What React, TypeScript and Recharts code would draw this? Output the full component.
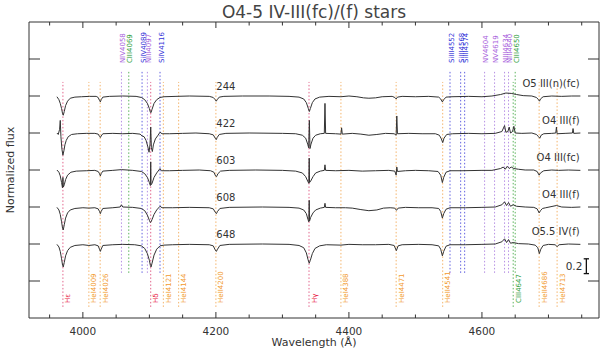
import React from "react";
import { LineChart, Line, XAxis, YAxis, ReferenceLine, ReferenceDot } from "recharts";

// wavelength axis (Angstrom) and flux axis
const X_DOMAIN = [3919, 4776];
const X_TICKS = [3950, 4000, 4050, 4100, 4150, 4200, 4250, 4300, 4350, 4400, 4450, 4500, 4550, 4600, 4650, 4700, 4750];
const Y_TICKS = [0.5, 1, 1.5, 2, 2.5, 3, 3.5];

const STAR_IDS = ["244", "422", "603", "608", "648"];
const STAR_TYPES = ["O5 III(n)(fc)", "O4 III(f)", "O4 III(fc)", "O4 III(f)", "O5.5 IV(f)"];
const STAR_OFFSETS = [2, 1.5, 1, 0.5, 0];

// normalized flux, [wavelength, flux]
const FLUX_244 = [
  [3961, 0.99], [3964, 0.95], [3966, 0.9], [3968, 0.83], [3969.5, 0.76], [3970.5, 0.74], [3972, 0.79], [3974, 0.87],
  [3977, 0.93], [3981, 0.97], [3988, 0.985], [3998, 0.99], [4010, 0.995], [4020, 0.995], [4023, 0.98], [4025, 0.94],
  [4026.3, 0.92], [4027.5, 0.95], [4030, 0.985], [4040, 0.995], [4060, 1.0], [4080, 0.995], [4088, 0.98], [4093, 0.95],
  [4097, 0.9], [4100, 0.83], [4101.5, 0.78], [4102.5, 0.775], [4104, 0.82], [4107, 0.9], [4111, 0.95], [4116, 0.98],
  [4122, 0.99], [4140, 0.995], [4160, 1.0], [4190, 0.995], [4196, 0.98], [4199, 0.95], [4200.5, 0.93], [4202, 0.95],
  [4205, 0.985], [4212, 0.995], [4240, 1.0], [4280, 1.0], [4310, 0.995], [4325, 0.985], [4332, 0.96], [4336, 0.91],
  [4339, 0.83], [4340.5, 0.79], [4342, 0.83], [4345, 0.91], [4349, 0.96], [4356, 0.985], [4370, 0.995], [4388, 0.99],
  [4400, 1.0], [4412, 0.99], [4422, 0.975], [4430, 0.97], [4440, 0.975], [4450, 0.99], [4465, 0.995], [4469, 0.98],
  [4471, 0.96], [4473, 0.985], [4480, 0.995], [4500, 0.99], [4520, 0.995], [4535, 0.985], [4538, 0.96], [4540.5, 0.92],
  [4542.5, 0.95], [4546, 0.985], [4555, 0.99], [4580, 0.995], [4600, 0.99], [4615, 1.0], [4628, 1.02], [4636, 1.04],
  [4644, 1.035], [4652, 1.02], [4662, 1.005], [4675, 1.0], [4682, 0.98], [4685, 0.95], [4686.5, 0.93], [4688, 0.96],
  [4692, 0.99], [4705, 1.0], [4720, 0.995], [4735, 1.0], [4748, 1.0],
];

const FLUX_422 = [
  [3961, 1.0], [3963, 0.98], [3965, 1.05], [3966, 1.17], [3967, 0.95], [3968.5, 0.78], [3970, 0.7], [3971.5, 0.76],
  [3973, 0.84], [3975, 0.9], [3978, 0.95], [3983, 0.98], [3992, 0.99], [4005, 0.995], [4018, 0.995], [4023, 0.985],
  [4025, 0.955], [4026.3, 0.94], [4027.5, 0.96], [4030, 0.99], [4045, 0.995], [4060, 0.99], [4075, 0.995], [4086, 0.985],
  [4089, 0.96], [4092, 0.95], [4095, 0.9], [4097.5, 0.82], [4099.5, 0.74], [4101, 0.85], [4102, 1.08], [4103, 0.8],
  [4104.5, 0.75], [4106, 0.84], [4109, 0.92], [4113, 0.97], [4116, 1.01], [4119, 0.99], [4130, 0.99], [4150, 0.995],
  [4170, 1.0], [4190, 0.99], [4196, 0.975], [4199, 0.93], [4200.5, 0.91], [4202, 0.94], [4205, 0.98], [4215, 0.995],
  [4250, 1.0], [4300, 0.995], [4320, 0.99], [4330, 0.97], [4335, 0.93], [4338, 0.85], [4339.5, 0.8], [4340.5, 1.17],
  [4341.5, 0.79], [4343, 0.85], [4346, 0.93], [4350, 0.97], [4357, 0.99], [4363, 0.995], [4364, 1.4], [4365, 0.995],
  [4380, 0.99], [4388, 0.985], [4389, 1.07], [4390, 0.985], [4405, 0.995], [4418, 0.985], [4430, 0.97], [4442, 0.98],
  [4455, 0.995], [4468, 0.99], [4471, 0.97], [4472, 1.23], [4473, 0.99], [4490, 0.995], [4510, 0.99], [4530, 0.99],
  [4536, 0.97], [4539, 0.92], [4541, 0.87], [4543, 0.93], [4547, 0.98], [4556, 0.99], [4580, 0.995], [4600, 0.99],
  [4620, 0.995], [4630, 1.02], [4634, 1.1], [4636, 1.01], [4639, 1.02], [4641, 1.08], [4643, 1.0], [4646, 1.02],
  [4648, 1.09], [4650, 1.0], [4660, 0.995], [4675, 1.0], [4682, 0.98], [4685, 0.95], [4687, 0.93], [4689, 0.97],
  [4693, 0.99], [4705, 0.995], [4711, 1.0], [4712, 1.08], [4713, 0.99], [4725, 0.995], [4736, 1.0], [4737, 1.06],
  [4738, 0.995], [4748, 1.0],
];

const FLUX_603 = [
  [3961, 1.0], [3964, 0.97], [3966, 0.92], [3968, 0.83], [3969.3, 0.76], [3970, 0.9], [3970.7, 0.77], [3972, 0.8],
  [3974, 0.87], [3977, 0.93], [3982, 0.97], [3990, 0.985], [4005, 0.99], [4018, 0.995], [4023, 0.98], [4025, 0.95],
  [4026.3, 0.92], [4027.5, 0.95], [4030, 0.985], [4045, 0.995], [4058, 1.005], [4075, 0.995], [4088, 0.98], [4093, 0.95],
  [4097, 0.9], [4100, 0.83], [4101.5, 0.79], [4102, 1.11], [4102.5, 0.8], [4104, 0.82], [4107, 0.9], [4111, 0.96],
  [4116, 1.02], [4118, 0.99], [4130, 0.99], [4150, 0.995], [4175, 1.0], [4192, 0.99], [4197, 0.97], [4199.5, 0.92],
  [4201, 0.91], [4203, 0.95], [4207, 0.985], [4220, 0.995], [4260, 1.0], [4300, 0.995], [4320, 0.985], [4330, 0.96],
  [4335, 0.91], [4338, 0.85], [4339.7, 0.82], [4340.3, 1.16], [4340.8, 0.83], [4342.5, 0.85], [4346, 0.91], [4350, 0.96],
  [4357, 0.985], [4363, 0.995], [4364, 1.07], [4365, 0.995], [4380, 0.99], [4400, 0.995], [4420, 0.985], [4440, 0.99],
  [4460, 0.995], [4469, 0.985], [4471, 0.93], [4472, 1.04], [4473, 0.98], [4485, 0.99], [4500, 0.995], [4520, 0.99],
  [4534, 0.98], [4538, 0.93], [4540.5, 0.83], [4542.5, 0.9], [4546, 0.97], [4552, 0.99], [4570, 0.99], [4600, 0.995],
  [4615, 0.995], [4628, 1.02], [4632, 1.04], [4635, 1.01], [4638, 1.05], [4641, 1.02], [4644, 1.04], [4648, 1.02],
  [4655, 1.01], [4665, 1.0], [4678, 1.0], [4683, 0.98], [4686, 0.93], [4688, 0.96], [4693, 0.99], [4705, 1.0],
  [4715, 0.995], [4730, 1.0], [4748, 0.995],
];

const FLUX_608 = [
  [3961, 0.995], [3964, 0.96], [3966, 0.9], [3968, 0.8], [3969.5, 0.71], [3970.5, 0.69], [3972, 0.76], [3974, 0.85],
  [3977, 0.92], [3981, 0.96], [3988, 0.98], [4000, 0.99], [4009, 0.985], [4018, 0.99], [4023, 0.975], [4025, 0.94],
  [4026.3, 0.91], [4027.5, 0.94], [4030, 0.98], [4045, 0.99], [4056, 1.0], [4058, 1.03], [4060, 1.0], [4075, 0.995],
  [4088, 0.98], [4093, 0.95], [4097, 0.89], [4100, 0.82], [4101.5, 0.79], [4102.5, 0.8], [4104, 0.83], [4107, 0.9],
  [4111, 0.96], [4116, 1.01], [4119, 0.99], [4135, 0.99], [4160, 0.995], [4190, 0.99], [4196, 0.975], [4199, 0.93],
  [4200.7, 0.91], [4202.5, 0.94], [4206, 0.98], [4220, 0.995], [4270, 1.0], [4310, 0.995], [4325, 0.985], [4332, 0.96],
  [4336, 0.91], [4338.5, 0.83], [4339.7, 0.8], [4340.3, 1.09], [4340.8, 0.81], [4342.5, 0.86], [4346, 0.92], [4350, 0.96],
  [4357, 0.985], [4363, 0.995], [4364, 1.05], [4365, 0.995], [4380, 0.99], [4395, 0.99], [4405, 0.985], [4418, 0.965],
  [4430, 0.95], [4442, 0.96], [4452, 0.985], [4462, 0.99], [4469, 0.985], [4471.5, 0.955], [4474, 0.985], [4485, 0.995],
  [4505, 0.99], [4525, 0.99], [4535, 0.98], [4538, 0.94], [4540.5, 0.85], [4542.5, 0.91], [4546, 0.97], [4552, 0.99],
  [4575, 0.99], [4600, 0.995], [4620, 1.0], [4630, 1.03], [4634, 1.07], [4637, 1.02], [4640, 1.06], [4643, 1.01],
  [4647, 1.03], [4652, 1.01], [4665, 1.0], [4678, 0.995], [4683, 0.975], [4686, 0.92], [4688, 0.95], [4691, 0.98],
  [4696, 0.99], [4712, 1.02], [4720, 1.0], [4735, 0.995], [4748, 1.0],
];

const FLUX_648 = [
  [3961, 0.995], [3964, 0.96], [3966, 0.9], [3968, 0.8], [3969.5, 0.71], [3970.5, 0.69], [3972, 0.75], [3974, 0.84],
  [3977, 0.91], [3981, 0.955], [3988, 0.98], [4000, 0.99], [4009, 0.98], [4018, 0.99], [4023, 0.975], [4025, 0.93],
  [4026.3, 0.9], [4027.5, 0.93], [4030, 0.98], [4045, 0.99], [4060, 0.995], [4078, 0.99], [4088, 0.975], [4093, 0.94],
  [4097, 0.87], [4100, 0.78], [4101.5, 0.71], [4102.5, 0.69], [4104, 0.74], [4107, 0.85], [4111, 0.93], [4116, 0.975],
  [4122, 0.985], [4135, 0.99], [4160, 0.995], [4190, 0.99], [4196, 0.975], [4199, 0.92], [4200.7, 0.9], [4202.5, 0.93],
  [4206, 0.98], [4220, 0.995], [4270, 1.0], [4310, 0.995], [4325, 0.98], [4332, 0.95], [4336, 0.88], [4338.5, 0.79],
  [4340.3, 0.74], [4342, 0.78], [4345, 0.87], [4349, 0.94], [4356, 0.975], [4366, 0.99], [4388, 0.985], [4400, 0.995],
  [4420, 0.99], [4440, 0.99], [4460, 0.995], [4468, 0.98], [4471.3, 0.91], [4474, 0.975], [4480, 0.99], [4505, 0.995],
  [4525, 0.99], [4535, 0.975], [4538, 0.93], [4540.5, 0.84], [4542.5, 0.9], [4546, 0.97], [4552, 0.99], [4575, 0.99],
  [4600, 0.995], [4620, 1.0], [4630, 1.03], [4634, 1.07], [4637, 1.02], [4640, 1.06], [4643, 1.01], [4647, 1.02],
  [4655, 1.005], [4670, 1.0], [4680, 0.985], [4684, 0.95], [4686.3, 0.87], [4688.5, 0.93], [4692, 0.98], [4700, 0.995],
  [4710, 0.99], [4713, 0.965], [4716, 0.99], [4730, 1.0], [4748, 0.995],
];

const STAR_FLUX = [FLUX_244, FLUX_422, FLUX_603, FLUX_608, FLUX_648];

// line identifications, labelled above the spectra
const TOP_LINE_W = [4058, 4069, 4089, 4097, 4116, 4552, 4568, 4574, 4604, 4619, 4634, 4640, 4650];
const TOP_LINE_NAMES = ["NIV4058", "CIII4069", "SiIV4089", "NIII4097", "SiIV4116", "SiIII4552", "SiIII4568", "SiIII4574", "NV4604", "NV4619", "NIII4634", "NIII4640", "CIII4650"];
const TOP_LINE_ION = ["N", "C", "Si", "N", "Si", "Si", "Si", "Si", "N", "N", "N", "N", "C"];

// line identifications, labelled below the spectra
const BOTTOM_LINE_W = [3970, 4009, 4026, 4102, 4121, 4144, 4200, 4340, 4388, 4471, 4541, 4647, 4686, 4713];
const BOTTOM_LINE_NAMES = ["H\u03b5", "HeI4009", "HeI4026", "H\u03b4", "HeI4121", "HeI4144", "HeII4200", "H\u03b3", "HeI4388", "HeI4471", "HeII4541", "CIII4647", "HeII4686", "HeI4713"];
const BOTTOM_LINE_ION = ["H", "He", "He", "H", "He", "He", "He", "H", "He", "He", "He", "C", "He", "He"];

const ION_TEXT: Record<string, string> = { H: "#e8153c", He: "#f29a2e", C: "#2f9e3a", N: "#a860dc", Si: "#3232d8" };
const ION_DOTS: Record<string, string> = { H: "#e2658c", He: "#f4b46c", C: "#5cb45c", N: "#b690e4", Si: "#6262e0" };

const TOP_SPAN = [0.61, 3.35];
const BOTTOM_SPAN = [0.15, 3.19];

const INK = "#333";
const FONT = "'DejaVu Sans', sans-serif";

function BottomTick(props: any) {
  const { x, y, payload } = props;
  const major = payload.value % 200 === 0;
  return (
    <g>
      <line x1={x} x2={x} y1={y} y2={y - (major ? 6 : 3.5)} stroke={INK} />
      {major && (
        <text x={x} y={y + 13} textAnchor="middle" dominantBaseline="central" fontSize={10.5} fontFamily={FONT} fill={INK}>
          {payload.value}
        </text>
      )}
    </g>
  );
}

function TopTick(props: any) {
  const { x, y, payload } = props;
  const major = payload.value % 200 === 0;
  return <line x1={x} x2={x} y1={y} y2={y + (major ? 6 : 3.5)} stroke={INK} />;
}

function LeftTick(props: any) {
  const { x, y } = props;
  return <line x1={x} x2={x + 11} y1={y} y2={y} stroke={INK} />;
}

function RightTick(props: any) {
  const { x, y } = props;
  return <line x1={x} x2={x - 11} y1={y} y2={y} stroke={INK} />;
}

function MarkLabel(props: any) {
  const { viewBox, text, color, top } = props;
  if (!viewBox) return null;
  const x = viewBox.x + (top ? 1.5 : 5.5);
  const y = top ? viewBox.y - 7 : viewBox.y + viewBox.height - 4;
  return (
    <text
      x={x}
      y={y}
      transform={`rotate(-90 ${x} ${y})`}
      textAnchor="start"
      dominantBaseline="central"
      fontSize={7}
      fontFamily={FONT}
      fill={color}
    >
      {text}
    </text>
  );
}

export default function App() {
  const series = STAR_FLUX.map((pts, i) => pts.map(([w, f]) => ({ w, f: f + STAR_OFFSETS[i] })));
  const barW = 4757;

  return (
    <div style={{ position: "absolute", left: 0, top: 0, width: 600, height: 352, background: "#fff" }}>
      <LineChart width={600} height={352} margin={{ top: 21, right: 0, bottom: 4, left: 28 }}>
        <XAxis xAxisId="b" type="number" dataKey="w" domain={X_DOMAIN} ticks={X_TICKS} interval={0} allowDataOverflow
          height={30} tickSize={0} tickMargin={0} tickLine={false} axisLine={{ stroke: INK }} tick={<BottomTick />} />
        <XAxis xAxisId="t" orientation="top" type="number" dataKey="w" domain={X_DOMAIN} ticks={X_TICKS} interval={0} allowDataOverflow
          height={1} tickSize={0} tickMargin={0} tickLine={false} axisLine={{ stroke: INK }} tick={<TopTick />} />
        <YAxis yAxisId="l" type="number" domain={[0, 4]} ticks={Y_TICKS} interval={0} allowDataOverflow
          width={1} tickSize={0} tickMargin={0} tickLine={false} axisLine={{ stroke: INK }} tick={<LeftTick />} />
        <YAxis yAxisId="r" orientation="right" type="number" domain={[0, 4]} ticks={Y_TICKS} interval={0} allowDataOverflow
          width={1} tickSize={0} tickMargin={0} tickLine={false} axisLine={{ stroke: INK }} tick={<RightTick />} />

        {TOP_LINE_W.map((w, i) => (
          <ReferenceLine key={"t" + i} xAxisId="b" yAxisId="l" ifOverflow="visible"
            segment={[{ x: w, y: TOP_SPAN[0] }, { x: w, y: TOP_SPAN[1] }]}
            stroke={ION_DOTS[TOP_LINE_ION[i]]} strokeDasharray="1.5 2"
            label={<MarkLabel text={TOP_LINE_NAMES[i]} color={ION_TEXT[TOP_LINE_ION[i]]} top />} />
        ))}
        {BOTTOM_LINE_W.map((w, i) => (
          <ReferenceLine key={"b" + i} xAxisId="b" yAxisId="l" ifOverflow="visible"
            segment={[{ x: w, y: BOTTOM_SPAN[0] }, { x: w, y: BOTTOM_SPAN[1] }]}
            stroke={ION_DOTS[BOTTOM_LINE_ION[i]]} strokeDasharray="1.5 2"
            label={<MarkLabel text={BOTTOM_LINE_NAMES[i]} color={ION_TEXT[BOTTOM_LINE_ION[i]]} top={false} />} />
        ))}

        {series.map((d, i) => (
          <Line key={STAR_IDS[i]} xAxisId="b" yAxisId="l" data={d} dataKey="f" type="linear" dot={false}
            stroke={INK} strokeWidth={1} isAnimationActive={false} />
        ))}

        {STAR_IDS.map((id, i) => (
          <ReferenceDot key={"id" + id} xAxisId="b" yAxisId="l" x={4215} y={STAR_OFFSETS[i] + 1.135} r={1} ifOverflow="visible"
            shape={(p: any) => (
              <text x={p.cx} y={p.cy} textAnchor="middle" dominantBaseline="central" fontSize={10} fontFamily={FONT} fill={INK}>{id}</text>
            )} />
        ))}
        {STAR_TYPES.map((t, i) => (
          <ReferenceDot key={"ty" + i} xAxisId="b" yAxisId="l" x={4747} y={STAR_OFFSETS[i] + 1.175} r={1} ifOverflow="visible"
            shape={(p: any) => (
              <text x={p.cx} y={p.cy} textAnchor="end" dominantBaseline="central" fontSize={10} fontFamily={FONT} fill={INK}>{t}</text>
            )} />
        ))}

        <ReferenceLine xAxisId="b" yAxisId="l" ifOverflow="visible" segment={[{ x: barW, y: 0.6 }, { x: barW, y: 0.8 }]} stroke="#111" strokeWidth={1.3} />
        <ReferenceLine xAxisId="b" yAxisId="l" ifOverflow="visible" segment={[{ x: barW - 4, y: 0.6 }, { x: barW + 4, y: 0.6 }]} stroke="#111" strokeWidth={1.3} />
        <ReferenceLine xAxisId="b" yAxisId="l" ifOverflow="visible" segment={[{ x: barW - 4, y: 0.8 }, { x: barW + 4, y: 0.8 }]} stroke="#111" strokeWidth={1.3} />
        <ReferenceDot xAxisId="b" yAxisId="l" x={barW} y={0.7} r={1} ifOverflow="visible"
          shape={(p: any) => (
            <text x={p.cx - 4} y={p.cy} textAnchor="end" dominantBaseline="central" fontSize={10.5} fontFamily={FONT} fill={INK}>0.2</text>
          )} />
      </LineChart>

      <div style={{ position: "absolute", left: 0, top: 2, width: 628, textAlign: "center", fontFamily: FONT, fontSize: 17, color: "#444" }}>
        O4-5 IV-III(fc)/(f) stars
      </div>
      <div style={{ position: "absolute", left: 0, top: 336, width: 628, textAlign: "center", fontFamily: FONT, fontSize: 11, color: INK }}>
        Wavelength (Å)
      </div>
      <div style={{ position: "absolute", left: 10, top: 170, width: 0, height: 0 }}>
        <div style={{ position: "absolute", transform: "translate(-50%, -50%) rotate(-90deg)", whiteSpace: "nowrap", fontFamily: FONT, fontSize: 11, color: INK }}>
          Normalized flux
        </div>
      </div>
    </div>
  );
}
